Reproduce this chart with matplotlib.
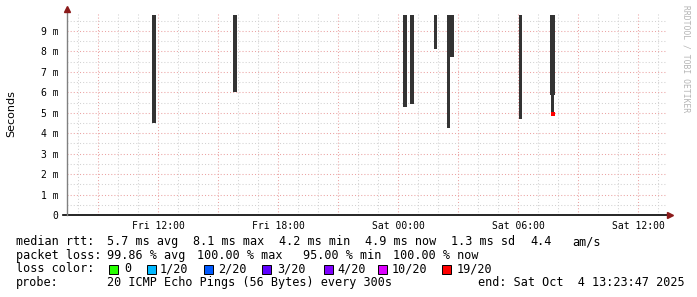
import matplotlib
matplotlib.use("Agg")
import matplotlib.pyplot as plt
from matplotlib.patches import Rectangle
from matplotlib.ticker import MultipleLocator, FixedLocator

# smoke segments (hours since Fri 00:00, values in ms)
seg_start = [11.70, 15.77, 24.27, 24.60, 25.80, 26.44, 26.60, 30.04, 31.60, 31.65]
seg_end = [11.88, 15.97, 24.45, 24.79, 25.95, 26.60, 26.80, 30.20, 31.85, 31.82]
seg_low = [4.48, 6.00, 5.30, 5.45, 8.14, 4.24, 7.75, 4.68, 5.87, 4.93]
seg_high = [9.78, 9.78, 9.78, 9.78, 9.78, 9.78, 9.78, 9.78, 9.78, 9.78]

# median points (only the one that was not 100% loss)
med_time = [31.74]
med_val = [4.94]
med_color = ['#ff0000']

t_start = 7.45
t_end = 37.45
x_ticks = [12, 18, 24, 30, 36]
x_labels = ['Fri 12:00', 'Fri 18:00', 'Sat 00:00', 'Sat 06:00', 'Sat 12:00']
y_ticks = [0, 1, 2, 3, 4, 5, 6, 7, 8, 9]
y_labels = ['0'] + ['%d m' % v for v in y_ticks[1:]]

loss_labels = ['0', '1/20', '2/20', '3/20', '4/20', '10/20', '19/20']
loss_colors = ['#26ff00', '#00b8ff', '#0059ff', '#5e00ff', '#7e00ff', '#dd00ff', '#ff0000']

W, H = 697, 297
fig = plt.figure(figsize=(W / 100, H / 100), dpi=100)
ax = fig.add_axes([67 / W, 82 / H, 600 / W, 202 / H])
ax.set_xlim(t_start, t_end)
ax.set_ylim(0, 9.88)

for s in ax.spines.values():
    s.set_visible(False)

# grid
dots = (0, (1, 2))
for h in range(8, 38):
    col = '#eba3a3' if h % 3 == 0 else '#d2d2d2'
    ax.axvline(h, color=col, lw=0.75, ls=dots, zorder=1)
for k in range(1, 20):
    v = k * 0.5
    col = '#eba3a3' if k % 2 == 0 else '#d2d2d2'
    ax.axhline(v, color=col, lw=0.75, ls=dots, zorder=1)

ax.set_xticks(x_ticks)
ax.set_xticklabels(x_labels, family='DejaVu Sans Mono', fontsize=7)
ax.set_yticks(y_ticks)
ax.set_yticklabels(y_labels, family='DejaVu Sans Mono', fontsize=7)
ax.tick_params(axis='both', which='both', length=0)
ax.tick_params(axis='x', pad=4)
ax.tick_params(axis='y', pad=6)

# smoke
for a, b, lo, hi in zip(seg_start, seg_end, seg_low, seg_high):
    ax.bar(a, hi - lo, bottom=lo, width=b - a, align='edge', color='#333333', lw=0, zorder=3)
ax.scatter(med_time, med_val, s=6, marker='s', color=med_color, lw=0, zorder=4)

# axes lines and arrows
ax.plot([t_start - 0.2, t_end + 0.05], [0, 0], color='black', lw=1.2, clip_on=False, zorder=5)
ax.plot([t_start, t_start], [0, 10.05], color='#808080', lw=1.0, clip_on=False, zorder=5)
ax.plot([t_end + 0.15], [0], marker='>', color='#8b1a1a', ms=4, clip_on=False, zorder=6)
ax.plot([t_start], [10.1], marker='^', color='#8b1a1a', ms=4, clip_on=False, zorder=6)

fig.text(11 / W, 1 - 114 / H, 'Seconds', rotation=90, ha='center', va='center',
         family='DejaVu Sans', fontsize=8)
fig.text(686 / W, 1 - 5 / H, 'RRDTOOL / TOBI OETIKER', rotation=270, ha='center', va='top',
         family='DejaVu Sans Mono', fontsize=5.8, color='#b4b4b4')

# legend text
mono = dict(family='DejaVu Sans Mono', fontsize=8.5, va='center', ha='left')
rows = [241.7, 255.2, 269, 282.8]
items = [
    (0, 16, 'median rtt:'), (0, 107, '5.7 ms avg'), (0, 193, '8.1 ms max'),
    (0, 279, '4.2 ms min'), (0, 365, '4.9 ms now'), (0, 451, '1.3 ms sd'),
    (0, 530, '4.4'), (0, 572, 'am/s'),
    (1, 16, 'packet loss:'), (1, 107, '99.86 % avg'), (1, 197, '100.00 % max'),
    (1, 303, '95.00 % min'), (1, 393, '100.00 % now'),
    (2, 16, 'loss color:'),
    (3, 16, 'probe:'), (3, 107, '20 ICMP Echo Pings (56 Bytes) every 300s'),
    (3, 478, 'end: Sat Oct  4 13:23:47 2025'),
]
for r, x, s in items:
    fig.text(x / W, 1 - rows[r] / H, s, **mono)

sq_x = [109, 147, 204, 262, 324, 378, 442]
lab_x = [124, 160, 218, 277, 337, 392, 457]
for sx, lx, lab, c in zip(sq_x, lab_x, loss_labels, loss_colors):
    fig.patches.append(Rectangle((sx / W, 1 - 273.5 / H), 8.5 / W, 8.5 / H,
                                 transform=fig.transFigure, facecolor=c,
                                 edgecolor='black', lw=0.7))
    fig.text(lx / W, 1 - rows[2] / H, lab, **mono)

fig.savefig('out.png', dpi=100)
